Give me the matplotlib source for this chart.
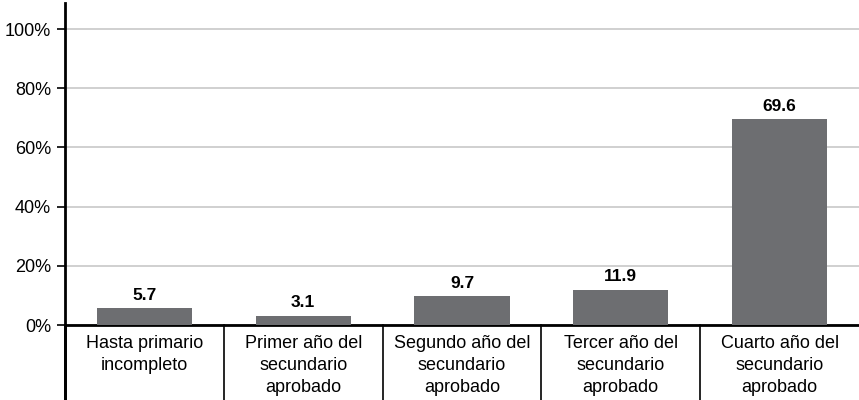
import matplotlib
matplotlib.use("Agg")
import matplotlib.pyplot as plt
from matplotlib import font_manager
import matplotlib.transforms as mtransforms

categories = [
    "Hasta primario\nincompleto",
    "Primer año del\nsecundario\naprobado",
    "Segundo año del\nsecundario\naprobado",
    "Tercer año del\nsecundario\naprobado",
    "Cuarto año del\nsecundario\naprobado",
]
values = [5.7, 3.1, 9.7, 11.9, 69.6]
yticks = [0, 20, 40, 60, 80, 100]
ytick_labels = ["0%", "20%", "40%", "60%", "80%", "100%"]

names = {f.name for f in font_manager.fontManager.ttflist}
family = "Liberation Sans Narrow" if "Liberation Sans Narrow" in names else "Liberation Sans"
plt.rcParams["font.family"] = [family, "DejaVu Sans"]

fig = plt.figure(figsize=(8.59, 4.0), dpi=100)
ax = fig.add_axes([0.0757, 0.1875, 0.9243, 0.805])

x = list(range(len(categories)))
ax.bar(x, values, width=0.6, color="#6d6e71", zorder=3)
for xi, v in zip(x, values):
    ax.text(xi, v + 1.8, f"{v:.1f}", ha="center", va="bottom",
            fontsize=12.5, fontweight="bold", color="black")

ax.set_xlim(-0.5, len(categories) - 0.5)
ax.set_ylim(0, 108.8)
ax.set_yticks(yticks)
ax.set_yticklabels(ytick_labels, fontsize=13)
ax.yaxis.grid(True, color="#c8c8c8", linewidth=1.2, zorder=0)
ax.tick_params(axis="y", length=6, width=1.2, color="black", pad=4)
ax.set_xticks([])

for side in ["top", "right"]:
    ax.spines[side].set_visible(False)
ax.spines["left"].set_linewidth(2)
ax.spines["bottom"].set_linewidth(2)
ax.spines["left"].set_bounds(-30, 108.8)

trans = mtransforms.blended_transform_factory(ax.transData, ax.transAxes)
for b in [0.5, 1.5, 2.5, 3.5]:
    ax.plot([b, b], [0, -0.24], transform=trans, color="black",
            linewidth=1.2, clip_on=False)
ax.plot([-0.5, -0.5], [0, -0.24], transform=trans, color="black",
        linewidth=2, clip_on=False)

for xi, lab in zip(x, categories):
    ax.text(xi, -0.03, lab, transform=trans, ha="center", va="top",
            fontsize=13, linespacing=1.4)

fig.savefig("out.png", dpi=100)
